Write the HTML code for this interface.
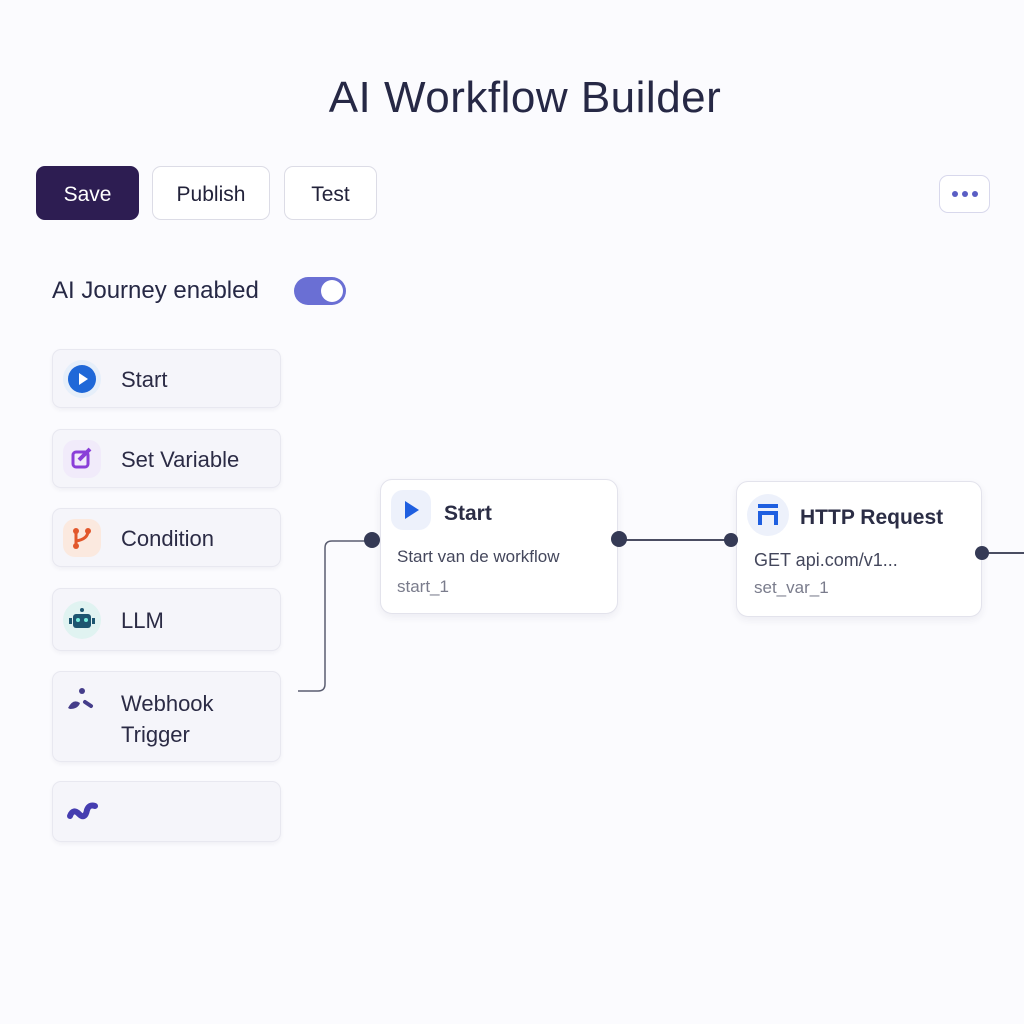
<!DOCTYPE html>
<html><head><meta charset="utf-8"><style>
*{box-sizing:border-box;margin:0;padding:0}
body{width:1024px;height:1024px;background:#fbfbfe;font-family:"Liberation Sans",sans-serif;color:#2b2b45;position:relative;overflow:hidden}
.abs{position:absolute}
h1{position:absolute;left:0;width:1050px;text-align:center;top:73px;font-size:44px;font-weight:400;color:#262845;letter-spacing:0.5px}
.btn{position:absolute;top:166px;height:54px;border-radius:9px;border:1.5px solid #dcdce6;background:#fff;font-size:21px;display:flex;align-items:center;justify-content:center;color:#22223a;padding-top:3px}
.card{position:absolute;left:52px;width:229px;border-radius:9px;background:#f5f5fa;border:1px solid #e8e8f0;box-shadow:0 2px 4px rgba(40,40,80,0.05);font-size:22px;color:#2b2b45}
.card .ic{position:absolute;left:10px;width:38px;height:38px;border-radius:50%}
.card .t{position:absolute;left:68px}
.node{position:absolute;background:#fff;border:1px solid #e3e3ec;border-radius:12px;box-shadow:0 3px 8px rgba(40,40,80,0.07)}
.dot{position:absolute;width:16px;height:16px;border-radius:50%;background:#353a55}
</style></head><body>
<h1>AI Workflow Builder</h1>
<div class="btn" style="left:36px;width:103px;background:#2d1d52;border-color:#2d1d52;color:#fff">Save</div>
<div class="btn" style="left:152px;width:118px">Publish</div>
<div class="btn" style="left:284px;width:93px">Test</div>
<div class="btn" style="left:939px;top:175px;width:51px;height:38px;border-color:#d8d8ec;gap:4px;padding-top:0"><span style="width:6px;height:6px;border-radius:50%;background:#5a5ec4"></span><span style="width:6px;height:6px;border-radius:50%;background:#5a5ec4"></span><span style="width:6px;height:6px;border-radius:50%;background:#5a5ec4"></span></div>
<div class="abs" style="left:52px;top:277px;font-size:24px;color:#262845">AI Journey enabled</div>
<div class="abs" style="left:294px;top:277px;width:52px;height:28px;border-radius:14px;background:#6a6fd4"><div class="abs" style="right:3px;top:3px;width:22px;height:22px;border-radius:50%;background:#fff"></div></div>

<div class="card" style="top:349px;height:59px"><div class="ic" style="top:10px;background:#e6effa"><div class="abs" style="left:5px;top:5px;width:28px;height:28px;border-radius:50%;background:#1f68d8"></div><div class="abs" style="left:16px;top:13px;border-left:9px solid #fff;border-top:6px solid transparent;border-bottom:6px solid transparent"></div></div><div class="t" style="top:17px">Start</div></div>
<div class="card" style="top:429px;height:59px"><div class="ic" style="top:10px;background:#f1ebfa;border-radius:12px"><svg width="38" height="38"><rect x="10" y="12" width="15" height="15" rx="3" fill="none" stroke="#8a3fd8" stroke-width="3"/><path d="M16 20 L27 9" stroke="#8a3fd8" stroke-width="4"/></svg></div><div class="t" style="top:17px">Set Variable</div></div>
<div class="card" style="top:508px;height:59px"><div class="ic" style="top:10px;background:#fbe9df;border-radius:12px"><svg width="38" height="38"><circle cx="13" cy="12" r="3" fill="#e2572b"/><circle cx="13" cy="27" r="3" fill="#e2572b"/><circle cx="25" cy="12" r="3" fill="#e2572b"/><path d="M13 12 V27 M25 12 Q25 20 13 22" stroke="#e2572b" stroke-width="3" fill="none"/></svg></div><div class="t" style="top:17px">Condition</div></div>
<div class="card" style="top:588px;height:63px"><div class="ic" style="top:12px;background:#e0f3f1"><svg width="38" height="38"><rect x="10" y="13" width="18" height="14" rx="3" fill="#1d5570"/><rect x="6" y="17" width="3" height="6" fill="#1d5570"/><rect x="29" y="17" width="3" height="6" fill="#1d5570"/><circle cx="19" cy="9" r="2" fill="#1d5570"/><circle cx="15" cy="19" r="2" fill="#7ed"/><circle cx="23" cy="19" r="2" fill="#7ed"/></svg></div><div class="t" style="top:19px">LLM</div></div>
<div class="card" style="top:671px;height:91px"><svg class="abs" style="left:12px;top:14px" width="34" height="30"><circle cx="17" cy="5" r="3" fill="#453d8a"/><path d="M3 22 Q8 12 15 17 Q13 23 5 23Z" fill="#453d8a"/><path d="M20 16 L26 20" stroke="#453d8a" stroke-width="4" stroke-linecap="round"/></svg><div class="t" style="top:16px;line-height:31px">Webhook<br>Trigger</div></div>
<div class="card" style="top:781px;height:61px"><svg class="abs" style="left:12px;top:14px" width="36" height="30"><path d="M5 20 Q8 12 14 18 Q20 24 22 14 Q24 8 30 10" stroke="#453db0" stroke-width="6" fill="none" stroke-linecap="round"/></svg></div>

<svg class="abs" style="left:0;top:0" width="1024" height="1024">
<path d="M298 691 H318 Q325 691 325 684 V548 Q325 541 332 541 H372" stroke="#5a5d70" stroke-width="1.5" fill="none"/>
<path d="M619 540 H731" stroke="#4a4d62" stroke-width="2" fill="none"/>
<path d="M982 553 H1024" stroke="#4a4d62" stroke-width="2" fill="none"/>
</svg>

<div class="node" style="left:380px;top:479px;width:238px;height:135px">
<div class="abs" style="left:10px;top:10px;width:40px;height:40px;border-radius:12px;background:#edf1fb"><div class="abs" style="left:14px;top:11px;border-left:14px solid #1f5fe0;border-top:9px solid transparent;border-bottom:9px solid transparent"></div></div>
<div class="abs" style="left:63px;top:22px;font-size:21px;font-weight:700;color:#2b2d45">Start</div>
<div class="abs" style="left:16px;top:67px;font-size:17px;color:#44475c">Start van de workflow</div>
<div class="abs" style="left:16px;top:97px;font-size:17px;color:#7a7c8c">start_1</div>
</div>
<div class="node" style="left:736px;top:481px;width:246px;height:136px">
<div class="abs" style="left:10px;top:12px;width:42px;height:42px;border-radius:50%;background:#edf1fb"><svg width="42" height="42"><rect x="11" y="10" width="20" height="4" fill="#1f5fe0"/><rect x="11" y="17" width="20" height="4" fill="#1f5fe0"/><rect x="11" y="21" width="4" height="10" fill="#1f5fe0"/><rect x="27" y="21" width="4" height="10" fill="#1f5fe0"/></svg></div>
<div class="abs" style="left:63px;top:24px;font-size:21px;font-weight:700;color:#2b2d45">HTTP Request</div>
<div class="abs" style="left:17px;top:68px;font-size:18px;color:#44475c">GET api.com/v1...</div>
<div class="abs" style="left:17px;top:96px;font-size:17px;color:#7a7c8c">set_var_1</div>
</div>
<div class="dot" style="left:364px;top:532px"></div>
<div class="dot" style="left:611px;top:531px"></div>
<div class="dot" style="left:724px;top:533px;width:14px;height:14px"></div>
<div class="dot" style="left:975px;top:546px;width:14px;height:14px"></div>
</body></html>
